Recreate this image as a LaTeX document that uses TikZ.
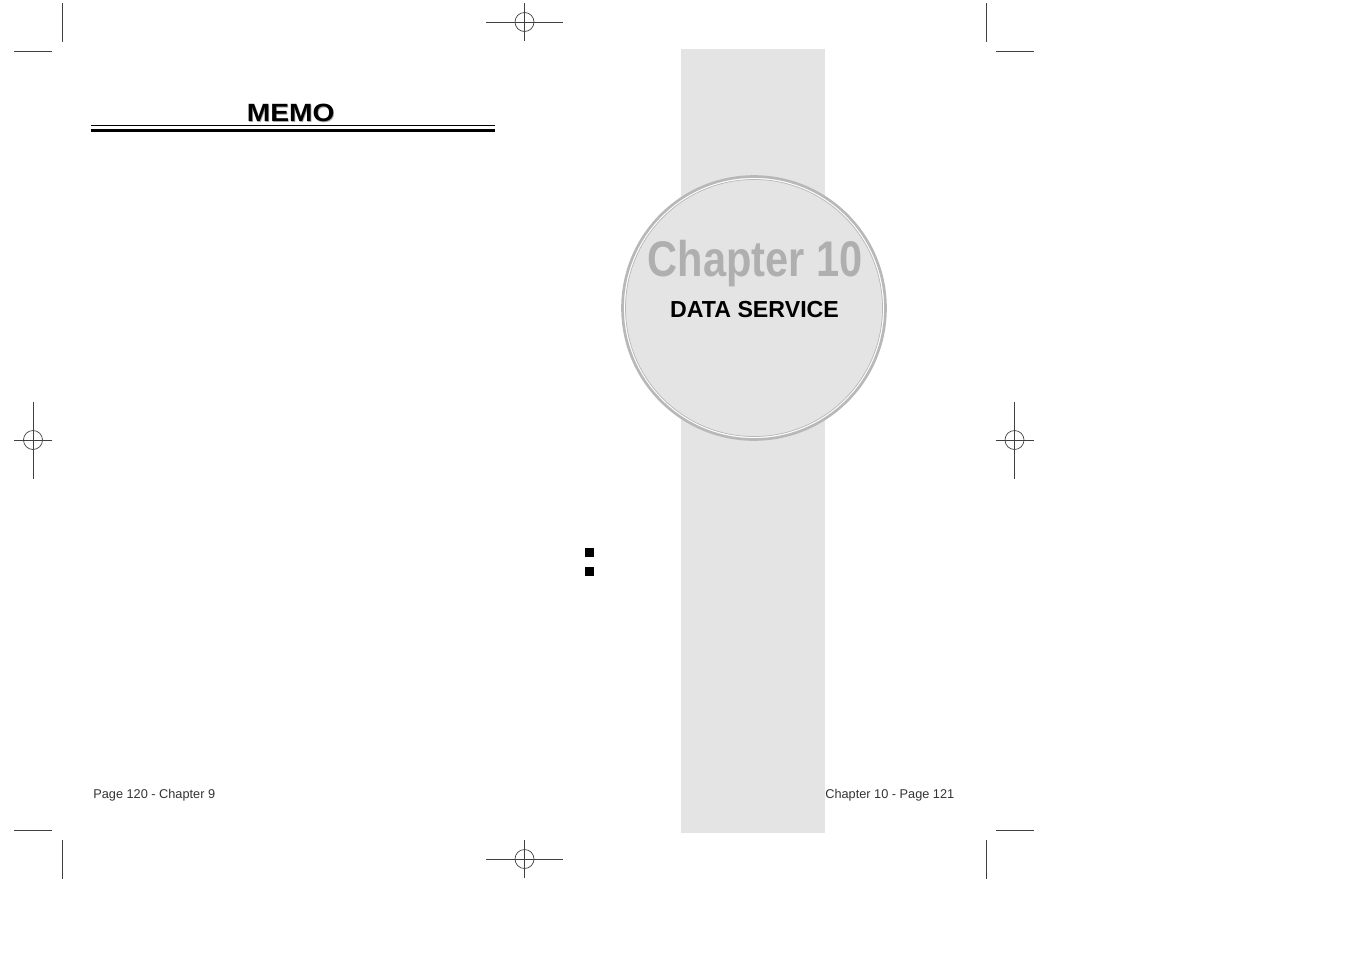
\documentclass[tikz,border=0pt]{standalone}
\usepackage{fontspec}
\setmainfont{Liberation Sans}
\newfontfamily\narrowfont[FakeStretch=0.83]{Liberation Sans}
\newfontfamily\wideboldfont[FakeStretch=1.13]{Liberation Sans}
\definecolor{pagegray}{HTML}{E4E4E4}
\definecolor{ringgray}{HTML}{B8B8B8}
\tikzset{
  trim/.style={draw=black!75,line width=0.4pt},
  foot/.style={anchor=west,inner sep=0pt,text=black!80,font=\fontsize{7.25pt}{9pt}\selectfont}
}
\begin{document}
\begin{tikzpicture}[x=0.02cm,y=-0.02cm]
\useasboundingbox (0,0) rectangle (1351,954);
\fill[pagegray] (681,49) rectangle (825,833);
% disc with its double ring
\fill[pagegray,draw=ringgray,line width=1.5pt] (754,308) circle (131.5);
\draw[white,line width=0.6pt] (754,308) circle (129.3);
\draw[ringgray,line width=0.4pt] (754,308) circle (128.5);
\node at (755,263.5) (chapter) {\fontsize{28.5pt}{30pt}\selectfont\narrowfont\bfseries\color{ringgray!95!black}Chapter 10};
\node at (754.5,310) (service) {\fontsize{13.2pt}{15pt}\selectfont\bfseries DATA SERVICE};
% memo head
\node at (291.5,113.5) (memoshadow) {\fontsize{14.2pt}{16pt}\selectfont\wideboldfont\bfseries\color{black!35}MEMO};
\node at (290.8,112.8) (memo) {\fontsize{14.2pt}{16pt}\selectfont\wideboldfont\bfseries MEMO};
\draw[line width=0.45pt] (91,125.5) -- (495,125.5);
\fill (91,129) rectangle (495,132);
\fill (585,548) rectangle (594,557);
\fill (585,567) rectangle (594,576);
\node[foot] at (93,795.5) (footleft) {Page 120 - Chapter 9};
\node[foot] at (825,795.5) (footright) {Chapter 10 - Page 121};
% corner marks
\foreach \x/\hl/\hr in {62/14/52,986/996/1034}{
  \draw[trim] (\x,3) -- (\x,42);
  \draw[trim] (\x,840) -- (\x,879);
  \draw[trim] (\hl,51) -- (\hr,51);
  \draw[trim] (\hl,830) -- (\hr,830);
}
% register marks
\foreach \x/\y in {524.5/22,524.5/859}{
  \draw[trim] (486,\y) -- (563,\y);
  \draw[trim] (\x,\y-19) -- (\x,\y+19);
  \draw[trim] (\x,\y) circle (9.5);
}
\foreach \x in {33,1014.5}{
  \draw[trim] (\x,402) -- (\x,479);
  \draw[trim] (\x-19,440) -- (\x+19,440);
  \draw[trim] (\x,440) circle (9.5);
}
\end{tikzpicture}
\end{document}
